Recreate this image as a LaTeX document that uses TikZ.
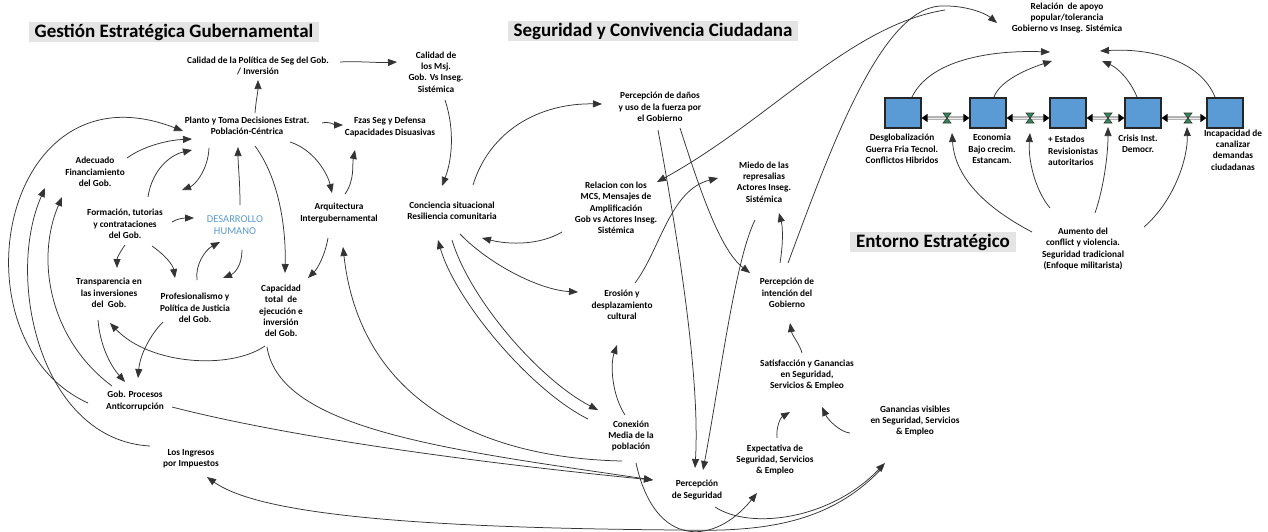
\documentclass[tikz,border=0pt]{standalone}
\usepackage{fontspec}
\setmainfont{Carlito}
\usetikzlibrary{arrows.meta,calc}
\definecolor{ink}{HTML}{333333}
\definecolor{stockblue}{HTML}{5B9BD5}
\definecolor{valvegreen}{HTML}{2E8B57}
\definecolor{titlegray}{HTML}{E4E4E4}
\definecolor{dhblue}{HTML}{5B9BD5}
\begin{document}
\begin{tikzpicture}[x=1pt,y=-1pt,
  lbl/.style={align=center,inner sep=1pt,text=black,font=\bfseries\fontsize{9.3}{11.3}\selectfont},
  sectitle/.style={fill=titlegray,inner xsep=6pt,inner ysep=2pt,font=\bfseries\fontsize{19}{21}\selectfont},
  link/.style={draw=ink,line width=0.75pt,-{Triangle[length=9pt,width=7pt]}},
  stock/.style={draw=black!85,fill=stockblue,line width=1.1pt,minimum width=36pt,minimum height=30pt,inner sep=0pt},
  pipeline/.style={draw=gray!60,line width=3.2pt,{Triangle[length=6pt,width=8pt,color=black]}-{Triangle[length=6pt,width=8pt,color=black]}},
  pipecore/.style={draw=gray!15,line width=1pt,shorten <=6pt,shorten >=6pt},
  valvepic/.pic={\filldraw[fill=valvegreen,draw=black!80,line width=0.6pt] (-4,-5) -- (4,-5) -- (-4,5) -- (4,5) -- cycle;}
]
\useasboundingbox[fill=white] (0,0) rectangle (1268,531);

% section titles
\node[sectitle] (t1) at (174,32) {Gestión Estratégica Gubernamental};
\node[sectitle] (t2) at (653,31) {Seguridad y Convivencia Ciudadana};
\node[sectitle] (t3) at (933,242) {Entorno Estratégico};

% variables
\node[lbl] (cpol) at (258,66) {Calidad de la Política de Seg del Gob.\\/ Inversión};
\node[lbl] (cmsj) at (436,72) {Calidad de\\los Msj.\\Gob. Vs Inseg.\\Sistémica};
\node[lbl] (planto) at (247,126) {Planto y Toma Decisiones Estrat.\\Población-Céntrica};
\node[lbl] (fzas) at (390,127) {Fzas Seg y Defensa\\Capacidades Disuasivas};
\node[lbl] (adec) at (95,172) {Adecuado\\Financiamiento\\del Gob.};
\node[lbl] (form) at (125,224) {Formación, tutorias\\y contrataciones\\del Gob.};
\node[align=center,inner sep=1pt,text=dhblue,font=\fontsize{10.5}{12.5}\selectfont] (dh) at (235,225) {DESARROLLO\\HUMANO};
\node[lbl] (arq) at (339,213) {Arquitectura\\Intergubernamental};
\node[lbl] (transp) at (109,293) {Transparencia en\\las inversiones\\del\ \ Gob.};
\node[lbl] (prof) at (195,308) {Profesionalismo y\\Política de Justicia\\del Gob.};
\node[lbl] (capac) at (281,311) {Capacidad\\total\ \ de\\ejecución e\\inversión\\del Gob.};
\node[lbl] (gobp) at (135,401) {Gob. Procesos\\Anticorrupción};
\node[lbl] (ingr) at (191,459) {Los Ingresos\\por Impuestos};
\node[lbl] (conc) at (452,211) {Conciencia situacional\\Resiliencia comunitaria};
\node[lbl] (mcs) at (616,208) {Relacion con los\\MCS, Mensajes de\\Amplificación\\Gob vs Actores Inseg.\\Sistémica};
\node[lbl] (danos) at (660,107) {Percepción de daños\\y uso de la fuerza por\\el Gobierno};
\node[lbl] (miedo) at (764,182) {Miedo de las\\represalias\\Actores Inseg.\\Sistémica};
\node[lbl] (eros) at (622,305) {Erosión y\\desplazamiento\\cultural};
\node[lbl] (pint) at (787,293) {Percepción de\\intención del\\Gobierno};
\node[lbl] (satis) at (807,375) {Satisfacción y Ganancias\\en Seguridad,\\Servicios \& Empleo};
\node[lbl] (ganv) at (915,421) {Ganancias visibles\\en Seguridad, Servicios\\\& Empleo};
\node[lbl] (expec) at (775,460) {Expectativa de\\Seguridad, Servicios\\\& Empleo};
\node[lbl] (pseg) at (697,490) {Percepción\\de Seguridad};
\node[lbl] (conex) at (631,436) {Conexión\\Media de la\\población};
\node[lbl] (rapoyo) at (1067,18) {Relación\ \ de apoyo\\popular/tolerancia\\Gobierno vs Inseg. Sistémica};
\node[lbl] (aum) at (1083,249) {Aumento del\\conflict y violencia.\\Seguridad tradicional\\(Enfoque militarista)};

% stocks and their labels
\node[stock] (b1) at (903,113) {};
\node[stock] (b2) at (988,113) {};
\node[stock] (b3) at (1068,113) {};
\node[stock] (b4) at (1143,113) {};
\node[stock] (b5) at (1225,113) {};
\node[lbl] (l1) at (902,149) {Desglobalización\\Guerra Fria Tecnol.\\Conflictos Hibridos};
\node[lbl] (l2) at (992,149) {Economia\\Bajo crecim.\\Estancam.};
\node[lbl,align=left,anchor=west] (l3) at (1047,151) {+ Estados\\Revisionistas\\autoritarios};
\node[lbl] (l4) at (1138,144) {Crisis Inst.\\Democr.};
\node[lbl] (l5) at (1233,150) {Incapacidad de\\canalizar\\demandas\\ciudadanas};

% flows between stocks
\coordinate (v1) at (947,118);
\coordinate (v2) at (1030,118);
\coordinate (v3) at (1108,118);
\coordinate (v4) at (1188,118);
\foreach \a/\b in {b1/b2,b2/b3,b3/b4,b4/b5}{
  \draw[pipeline] ($(\a.east)+(0,5)$) -- ($(\b.west)+(0,5)$);
  \draw[pipecore] ($(\a.east)+(0,5)$) -- ($(\b.west)+(0,5)$);
}
\foreach \v in {v1,v2,v3,v4}{\pic at (\v) {valvepic};}

% strategic management loops
\draw[link] ($(planto)+(8,-13)$) .. controls +(1,-13) and +(0,12) .. ($(cpol)+(0,14)$);
\draw[link] ($(cpol)+(82,-4)$) .. controls +(20,-1) and +(-20,1) .. ($(cmsj)+(-39,-10)$);
\draw[link] ($(cmsj)+(9,28)$) .. controls +(10,30) and +(10,-26) .. ($(conc)+(-10,-25)$);
\draw[link] ($(planto)+(75,-3)$) .. controls +(8,-2) and +(-8,0) .. ($(fzas)+(-47,-2)$);
\draw[link] ($(arq)+(6,-19)$) .. controls +(10,-14) and +(-3,15) .. ($(fzas)+(-35,23)$);
\draw[link] ($(planto)+(43,16)$) .. controls +(25,8) and +(-4,-18) .. ($(arq)+(-7,-20)$);
\draw[link] ($(planto)+(8,20)$) .. controls +(25,34) and +(1,-43) .. ($(capac)+(4,-38)$);
\draw[link] ($(dh)+(5,-20)$) .. controls +(0,-25) and +(0,18) .. ($(planto)+(-9,21)$);
\draw[link] ($(planto)+(-38,22)$) .. controls +(-1,22) and +(13,-5) .. ($(form)+(57,-34)$);
\draw[link] ($(form)+(23,-27)$) .. controls +(4,-27) and +(-22,5) .. ($(planto)+(-55,24)$);
\draw[link] ($(adec)+(32,-14)$) .. controls +(18,-13) and +(-22,1) .. ($(planto)+(-55,13)$);
\draw[link] ($(gobp)+(-47,2)$) .. controls +(-138,-63) and +(-183,-71) .. ($(planto)+(-64,5)$);
\draw[link] ($(ingr)+(-41,-13)$) .. controls +(-110,-6) and +(-40,90) .. ($(adec)+(-50,16)$);
\draw[link] ($(gobp)+(-23,-15)$) .. controls +(-62,-46) and +(-27,63) .. ($(adec)+(-33,25)$);
\draw[link] ($(form)+(47,-2)$) .. controls +(6,-4) and +(-8,0) .. ($(dh)+(-41,-7)$);
\draw[link] ($(form)+(0,21)$) .. controls +(-5,7) and +(0,-10) .. ($(transp)+(8,-25)$);
\draw[link] ($(form)+(27,22)$) .. controls +(13,9) and +(-2,-13) .. ($(prof)+(-20,-30)$);
\draw[link] ($(prof)+(2,-28)$) .. controls +(-2,-15) and +(-15,8) .. ($(dh)+(-15,17)$);
\draw[link] ($(dh)+(7,25)$) .. controls +(0,15) and +(12,-5) .. ($(prof)+(28,-30)$);
\draw[link] ($(transp)+(-11,27)$) .. controls +(2,25) and +(-15,-17) .. ($(gobp)+(-10,-19)$);
\draw[link] ($(prof)+(-32,14)$) .. controls +(-13,13) and +(2,-23) .. ($(gobp)+(3,-23)$);
\draw[link] ($(capac)+(-16,35)$) .. controls +(-35,24) and +(40,42) .. ($(transp)+(1,30)$);
\draw[link] ($(arq)+(-11,25)$) .. controls +(-3,17) and +(10,-10) .. ($(capac)+(27,-33)$);
\draw[link] ($(capac)+(-14,36)$) .. controls +(13,83) and +(-203,-30) .. ($(pseg)+(-44,-10)$);
\draw[link] ($(gobp)+(37,6)$) .. controls +(128,33) and +(-153,-15) .. ($(pseg)+(-44,-10)$);
\draw[link] ($(conex)+(-9,25)$) .. controls +(-142,-3) and +(17,153) .. ($(arq)+(4,34)$);

% citizen security loops
\draw[link] ($(conc)+(0,29)$) .. controls +(18,60) and +(-58,-30) .. ($(conex)+(-33,-26)$);
\draw[link] ($(conex)+(-43,-17)$) .. controls +(-58,-29) and +(17,60) .. ($(conc)+(-14,29)$);
\draw[link] ($(conc)+(8,23)$) .. controls +(30,31) and +(-38,-2) .. ($(eros)+(-44,-13)$);
\draw[link] ($(mcs)+(-54,24)$) .. controls +(-22,13) and +(28,7) .. ($(conc)+(30,27)$);
\draw[link] ($(eros)+(13,-22)$) .. controls +(25,-33) and +(-48,12) .. ($(miedo)+(-46,-4)$);
\draw[link] ($(conex)+(-6,-21)$) .. controls +(-13,-20) and +(-7,20) .. ($(eros)+(-5,40)$);
\draw[link] ($(conc)+(21,-26)$) .. controls +(17,-55) and +(-62,-1) .. ($(danos)+(-58,-3)$);
\draw[link] ($(danos)+(-2,23)$) .. controls +(22,120) and +(5,-88) .. ($(pseg)+(-2,-22)$);
\draw[link] ($(danos)+(20,21)$) .. controls +(20,62) and +(-30,-23) .. ($(pint)+(-37,-20)$);
\draw[link] ($(miedo)+(-9,38)$) .. controls +(-20,40) and +(17,-90) .. ($(pseg)+(6,-20)$);
\draw[link] ($(pint)+(-7,-30)$) .. controls +(3,-18) and +(4,15) .. ($(miedo)+(15,31)$);
\draw[link] ($(satis)+(-5,-22)$) .. controls +(-2,-8) and +(2,12) .. ($(pint)+(3,30)$);
\draw[link] ($(expec)+(2,-22)$) .. controls +(-1,-10) and +(-10,6) .. ($(satis)+(-17,37)$);
\draw[link] ($(ganv)+(-65,12)$) .. controls +(-10,-1) and +(6,13) .. ($(satis)+(15,32)$);
\draw[link] ($(conex)+(5,27)$) .. controls +(19,87) and +(-42,52) .. ($(expec)+(-18,33)$);
\draw[link] ($(pseg)+(18,17)$) .. controls +(35,23) and +(-55,57) .. ($(ganv)+(-30,42)$);
\draw[link] ($(ganv)+(-32,46)$) .. controls +(-53,58) and +(80,2) .. ($(ganv)+(-235,109)$)
  .. controls +(-260,-2) and +(53,38) .. ($(ingr)+(16,18)$);
\draw[link] ($(rapoyo)+(-122,-8)$) .. controls +(-95,15) and +(113,-62) .. ($(mcs)+(41,-26)$);
\draw[link] ($(pint)+(1,-30)$) .. controls +(42,-113) and +(-60,4) .. ($(pint)+(153,-287)$)
  .. controls +(25,-1) and +(-12,-10) .. ($(rapoyo)+(-70,5)$);

% strategic environment
\draw[link] ($(b1)+(9,-16)$) .. controls +(18,-37) and +(-60,-2) .. ($(rapoyo)+(-17,34)$);
\draw[link] ($(b2)+(6,-16)$) .. controls +(6,-17) and +(-22,7) .. ($(rapoyo)+(-15,43)$);
\draw[link] ($(b4)+(-6,-16)$) .. controls +(-7,-17) and +(16,7) .. ($(rapoyo)+(35,43)$);
\draw[link] ($(b5)+(-10,-16)$) .. controls +(-15,-37) and +(50,-3) .. ($(rapoyo)+(33,33)$);
\draw[link] ($(aum)+(-51,-17)$) .. controls +(-42,-22) and +(3,47) .. ($(v1)+(5,15)$);
\draw[link] ($(aum)+(-33,-41)$) .. controls +(-15,-18) and +(-2,27) .. ($(v2)+(0,15)$);
\draw[link] ($(aum)+(12,-36)$) .. controls +(8,-23) and +(0,30) .. ($(v3)+(0,9)$);
\draw[link] ($(aum)+(61,-22)$) .. controls +(31,-27) and +(1,30) .. ($(v4)+(-1,9)$);
\end{tikzpicture}
\end{document}
